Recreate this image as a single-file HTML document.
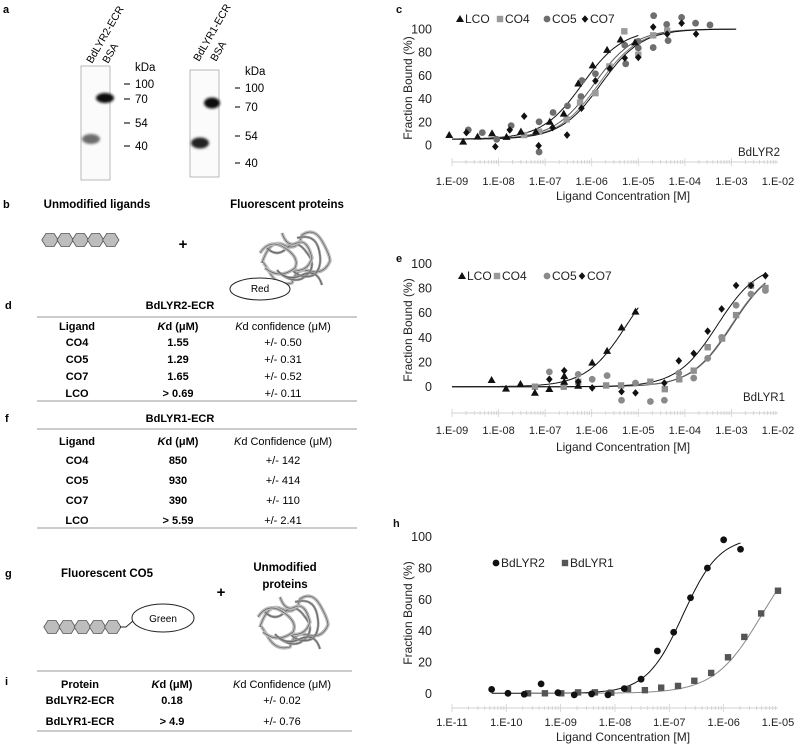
<!DOCTYPE html>
<html><head><meta charset="utf-8"><style>
html,body{margin:0;padding:0;background:#fff;}
svg{display:block;font-family:"Liberation Sans",sans-serif;}
.b{font-weight:bold;}
</style></head><body>
<svg id="fig" width="800" height="753" viewBox="0 0 800 753" xmlns="http://www.w3.org/2000/svg">
<defs><filter id="blur1" x="-50%" y="-50%" width="200%" height="200%"><feGaussianBlur stdDeviation="1.2"/></filter></defs>
<!-- Panel a: gels -->
<g>
<text x="3" y="13" font-size="11" class="b">a</text>
<text transform="translate(92,64) rotate(-60)" font-size="10.5">BdLYR2-ECR</text>
<text transform="translate(108,64) rotate(-60)" font-size="10.5">BSA</text>
<rect x="81" y="66" width="29" height="114" fill="#fbfbfb" stroke="#aaa" stroke-width="0.8"/>
<ellipse cx="91" cy="139" rx="9" ry="5" fill="#555" opacity="0.85" filter="url(#blur1)"/>
<ellipse cx="105" cy="98" rx="9" ry="5" fill="#111" filter="url(#blur1)"/>
<g stroke="#222" stroke-width="1.2"><line x1="124" y1="84" x2="130" y2="84"/><line x1="124" y1="99" x2="130" y2="99"/><line x1="124" y1="123" x2="130" y2="123"/><line x1="124" y1="146" x2="130" y2="146"/></g>
<g font-size="11.5"><text x="135" y="71">kDa</text><text x="135" y="88">100</text><text x="135" y="103">70</text><text x="135" y="127">54</text><text x="135" y="150">40</text></g>
<text transform="translate(199,62) rotate(-60)" font-size="10.5">BdLYR1-ECR</text>
<text transform="translate(216,62) rotate(-60)" font-size="10.5">BSA</text>
<rect x="190" y="70" width="29" height="107" fill="#fbfbfb" stroke="#aaa" stroke-width="0.8"/>
<ellipse cx="200" cy="143" rx="9" ry="5.5" fill="#222" filter="url(#blur1)"/>
<ellipse cx="212" cy="103" rx="8" ry="5.5" fill="#111" filter="url(#blur1)"/>
<g stroke="#222" stroke-width="1.2"><line x1="235" y1="88" x2="240" y2="88"/><line x1="235" y1="107" x2="240" y2="107"/><line x1="235" y1="136" x2="240" y2="136"/><line x1="235" y1="163" x2="240" y2="163"/></g>
<g font-size="11.5"><text x="245" y="75">kDa</text><text x="245" y="92">100</text><text x="245" y="111">70</text><text x="245" y="140">54</text><text x="245" y="167">40</text></g>
</g>
<!-- Panel b -->
<g>
<text x="3" y="208" font-size="11" class="b">b</text>
<text x="97" y="208" font-size="11.5" class="b" text-anchor="middle">Unmodified ligands</text>
<text x="287" y="208" font-size="11.5" class="b" text-anchor="middle">Fluorescent proteins</text>
<g id="hexB"></g>
<text x="183" y="249" font-size="15" class="b" text-anchor="middle">+</text>
<g id="protB"></g>
<ellipse cx="260" cy="289" rx="30" ry="11" fill="#fff" stroke="#222" stroke-width="1"/>
<text x="260" y="292" font-size="10" text-anchor="middle">Red</text>
</g>
<!-- Table d -->
<g font-size="11">
<text x="5" y="309" class="b" font-size="11">d</text>
<text x="180" y="309" class="b" text-anchor="middle">BdLYR2-ECR</text>
<line x1="37" y1="317" x2="357" y2="317" stroke="#999"/>
<text x="77" y="330" class="b" text-anchor="middle">Ligand</text>
<text x="178" y="330" class="b" text-anchor="middle"><tspan font-style="italic">K</tspan>d (μM)</text>
<text x="283" y="330" text-anchor="middle"><tspan font-style="italic">K</tspan>d confidence (μM)</text>
<g class="b" text-anchor="middle"><text x="77" y="346">CO4</text><text x="77" y="363">CO5</text><text x="77" y="380">CO7</text><text x="77" y="397">LCO</text>
<text x="178" y="346">1.55</text><text x="178" y="363">1.29</text><text x="178" y="380">1.65</text><text x="178" y="397">&gt; 0.69</text></g>
<g text-anchor="middle"><text x="283" y="346">+/- 0.50</text><text x="283" y="363">+/- 0.31</text><text x="283" y="380">+/- 0.52</text><text x="283" y="397">+/- 0.11</text></g>
<line x1="37" y1="401" x2="357" y2="401" stroke="#999"/>
</g>
<!-- Table f -->
<g font-size="11">
<text x="5" y="422" class="b" font-size="11">f</text>
<text x="180" y="422" class="b" text-anchor="middle">BdLYR1-ECR</text>
<line x1="37" y1="429" x2="357" y2="429" stroke="#999"/>
<text x="77" y="445" class="b" text-anchor="middle">Ligand</text>
<text x="178" y="445" class="b" text-anchor="middle"><tspan font-style="italic">K</tspan>d (μM)</text>
<text x="283" y="445" text-anchor="middle"><tspan font-style="italic">K</tspan>d Confidence (μM)</text>
<g class="b" text-anchor="middle"><text x="77" y="464">CO4</text><text x="77" y="484">CO5</text><text x="77" y="504">CO7</text><text x="77" y="524">LCO</text>
<text x="178" y="464">850</text><text x="178" y="484">930</text><text x="178" y="504">390</text><text x="178" y="524">&gt; 5.59</text></g>
<g text-anchor="middle"><text x="283" y="464">+/- 142</text><text x="283" y="484">+/- 414</text><text x="283" y="504">+/- 110</text><text x="283" y="524">+/- 2.41</text></g>
<line x1="37" y1="528" x2="357" y2="528" stroke="#999"/>
</g>
<!-- Panel g -->
<g>
<text x="5" y="577" font-size="11" class="b">g</text>
<text x="107" y="577" font-size="11.5" class="b" text-anchor="middle">Fluorescent CO5</text>
<text x="285" y="571" font-size="11.5" class="b" text-anchor="middle">Unmodified</text>
<text x="285" y="588" font-size="11.5" class="b" text-anchor="middle">proteins</text>
<text x="221" y="597" font-size="15" class="b" text-anchor="middle">+</text>
<g id="hexG"></g>
<path d="M120 627 L126 627 L134 620" fill="none" stroke="#222"/>
<ellipse cx="163" cy="618" rx="31" ry="14" fill="#fff" stroke="#222" stroke-width="1"/>
<text x="163" y="622" font-size="10" text-anchor="middle">Green</text>
<g id="protG"></g>
</g>
<!-- Table i -->
<g font-size="11">
<text x="5" y="685" class="b" font-size="11">i</text>
<line x1="37" y1="671" x2="352" y2="671" stroke="#999"/>
<text x="80" y="688" class="b" text-anchor="middle">Protein</text>
<text x="172" y="688" class="b" text-anchor="middle"><tspan font-style="italic">K</tspan>d (μM)</text>
<text x="282" y="688" text-anchor="middle"><tspan font-style="italic">K</tspan>d Confidence (μM)</text>
<g class="b" text-anchor="middle"><text x="80" y="704">BdLYR2-ECR</text><text x="80" y="725">BdLYR1-ECR</text><text x="172" y="704">0.18</text><text x="172" y="725">&gt; 4.9</text></g>
<g text-anchor="middle"><text x="282" y="704">+/- 0.02</text><text x="282" y="725">+/- 0.76</text></g>
<line x1="37" y1="731" x2="352" y2="731" stroke="#999"/>
</g>
<g id="chartC"></g>
<g id="chartE"></g>
<g id="chartH"></g>
</svg>
<script>
// ---- Chart c data (log10 concentration, fraction bound %) ----
const cLcoX = [-9.06,-8.76,-8.45,-8.14,-7.83,-7.52,-7.2,-6.9,-6.6,-6.29,-5.98,-5.67,-5.38,-5.07];
const cLcoY = [8.6,2.9,7.2,10,7,11.5,11.5,20,27,53,68.6,82,91,88.5];
const cCo4X = [-7.45,-7.13,-6.54,-6.25,-5.92,-5.62,-5.3,-5.0,-4.68,-4.38];
const cCo4Y = [8.6,11.5,22,36.6,44.7,67.7,98,77.8,94.5,98.6];
const cCo5X = [-8.65,-8.35,-8.04,-7.73,-7.13,-7.13,-6.83,-6.52,-6.23,-6.21,-5.92,-5.61,-5.29,-5.27,-5.0,-5.0,-4.68,-4.67,-4.39,-4.36,-4.07,-3.77,-3.46];
const cCo5Y = [13,10.7,4.9,16.7,20,-6,28,33.7,41.8,55.6,61.4,66.3,86,70,89.3,83.6,84,111.5,104,90,110,105,103.5];
const cCo7X = [-8.69,-8.07,-7.76,-7.45,-7.14,-6.84,-6.53,-6.22,-5.92,-5.61,-5.29,-5.0,-4.68,-4.38,-4.07,-3.76];
const cCo7Y = [10.7,-1.4,13,24.8,-0.6,15,8.6,31.7,55.3,66,75,75.5,101.7,95.7,105,95.7];
const cFitEC50 = [-6.2,-5.85,-5.95,-5.8];
const cFitEnd = [-5.0,-2.9,-2.9,-2.9];
const cXTicks = ["1.E-09","1.E-08","1.E-07","1.E-06","1.E-05","1.E-04","1.E-03","1.E-02"];
const cYTicks = [0,20,40,60,80,100];
// ---- Chart e data ----
const eLcoX = [-8.15,-7.84,-7.53,-7.22,-6.91,-6.59,-6.59,-6.29,-5.99,-5.67,-5.36,-5.06];
const eLcoY = [5.4,-1.6,2.2,-4.9,-1.9,4,8.6,0.8,19.5,29,48,60.8];
const eCo4X = [-7.22,-6.6,-6.29,-5.69,-5.37,-4.74,-4.43,-4.12,-3.81,-3.51,-3.2,-2.9,-2.58,-2.27];
const eCo4Y = [0,0,4,1,1,4,-2,6,13,32,39,58,82,80];
const eCo5X = [-6.91,-6.29,-5.99,-5.67,-5.36,-5.06,-4.74,-4.44,-4.13,-3.81,-3.51,-3.21,-2.9,-2.58,-2.27];
const eCo5Y = [12,10,6,9,-11,3,-12,-11,11,7,23,40,66,75,78];
const eCo7X = [-6.91,-6.59,-6.29,-5.99,-5.36,-5.06,-4.44,-4.13,-3.81,-3.51,-3.21,-2.9,-2.58,-2.27];
const eCo7Y = [6,13,4,-1,-4,-5,3,21,27,45,63,82,82,90];
const eFitEC50 = [-5.25,-3.0,-3.0,-3.3];
const eFitEnd = [-5.0,-2.27,-2.27,-2.27];
const eXTicks = ["1.E-09","1.E-08","1.E-07","1.E-06","1.E-05","1.E-04","1.E-03","1.E-02"];
const eYTicks = [0,20,40,60,80,100];
// ---- Chart h data ----
const hR2X = [-10.27,-9.97,-9.67,-9.36,-9.05,-8.75,-8.43,-8.13,-7.83,-7.52,-7.22,-6.92,-6.61,-6.3,-6.0,-5.69];
const hR2Y = [2.5,0,-0.6,6,0.4,-1,-0.4,-1,3,9,27,39,61,80,98,92];
const hR1X = [-9.6,-9.29,-8.99,-8.68,-8.37,-8.07,-7.76,-7.45,-7.15,-6.84,-6.54,-6.23,-5.92,-5.62,-5.31,-5.0];
const hR1Y = [0,0,0,0.6,0.6,0.4,2.8,2,3.6,4.7,8,13,23,36,51,65.5];
const hFitEC50 = [-6.75,-5.3];
const hFitHill = [1.3,1.0];
const hFitStart = [-10.27,-9.6];
const hFitEnd = [-5.69,-5.0];
const hXTicks = ["1.E-11","1.E-10","1.E-09","1.E-08","1.E-07","1.E-06","1.E-05"];
const hYTicks = [0,20,40,60,80,100];

const NS = "http://www.w3.org/2000/svg";
function mk(tag, attrs, parent){ const e=document.createElementNS(NS,tag); for(const k in attrs) e.setAttribute(k,attrs[k]); parent.appendChild(e); return e; }

function marker(g, shape, cx, cy, color){
  let el;
  if(shape==="tri") el = mk("polygon",{points:`${cx},${cy-4} ${cx-4},${cy+3} ${cx+4},${cy+3}`,fill:color},g);
  else if(shape==="sq") el = mk("rect",{x:cx-3.2,y:cy-3.2,width:6.4,height:6.4,fill:color},g);
  else if(shape==="dia") el = mk("polygon",{points:`${cx},${cy-3.8} ${cx+3.3},${cy} ${cx},${cy+3.8} ${cx-3.3},${cy}`,fill:color},g);
  else el = mk("circle",{cx:cx,cy:cy,r:3.4,fill:color},g);
  return el;
}

function makeAxes(cfg){
  const g = document.getElementById(cfg.id);
  const sx = v => cfg.x0 + (v - cfg.xmin) / (cfg.xmax - cfg.xmin) * (cfg.x1 - cfg.x0);
  const sy = v => cfg.yZero - v / 100 * (cfg.yZero - cfg.yHundred);
  const ax = mk("line",{x1:cfg.x0,y1:cfg.axisY,x2:cfg.x1,y2:cfg.axisY,stroke:"#d0d0d0","stroke-width":1},g);
  
  
  for(let d=cfg.xmin; d<cfg.xmax; d++){
    for(let m=1;m<10;m++){
      const x = sx(d + Math.log10(m));
      mk("line",{x1:x,y1:cfg.axisY-(m===1?4:2),x2:x,y2:cfg.axisY+(m===1?4:2),stroke:"#d0d0d0","stroke-width":0.8},g);
    }
  }
  cfg.xTicks.forEach((t,i)=>{
    const tx = mk("text",{x:sx(cfg.xmin+i),y:cfg.tickY,"font-size":11,"text-anchor":"middle",fill:"#222"},g);
    tx.textContent = t;
    
    
  });
  cfg.yTicks.forEach(v=>{
    const ty = mk("text",{x:cfg.yLabelX,y:sy(v)+4.5,"font-size":12.5,"text-anchor":"end",fill:"#222"},g);
    ty.textContent = v;
    
    
  });
  const xt = mk("text",{x:(cfg.x0+cfg.x1)/2+8,y:cfg.titleY,"font-size":12,"text-anchor":"middle",fill:"#222"},g);
  xt.textContent = "Ligand Concentration [M]";
  
  
  const yt = mk("text",{transform:`translate(${cfg.yTitleX},${cfg.yTitleCy}) rotate(-90)`,"font-size":12,"text-anchor":"middle",fill:"#222"},g);
  yt.textContent = "Fraction Bound (%)";
  
  
  const pl = mk("text",{x:cfg.labelX,y:cfg.labelY,"font-size":11,"font-weight":"bold",fill:"#111"},g);
  pl.textContent = cfg.label;
  
  
  return {g,sx,sy};
}

function fitCurve(A, start, end, bottom, top, ec50, hill, color, name){
  const pts=[];
  for(let i=0;i<=120;i++){
    const lx = start + (end-start)*i/120;
    const y = bottom + (top-bottom)/(1+Math.pow(10,(ec50-lx)*hill));
    pts.push(A.sx(lx).toFixed(1)+","+A.sy(y).toFixed(1));
  }
  const p = mk("polyline",{points:pts.join(" "),fill:"none",stroke:color,"stroke-width":1},A.g);
  
  
}

function scatter(A, xs, ys, shape, color, name){
  xs.forEach((x,i)=>{
    const m = marker(A.g, shape, A.sx(x), A.sy(ys[i]), color);
    
    
  });
}

function legend(A, items, y){
  items.forEach(it=>{
    const m = marker(A.g, it.shape, it.x, y-4, it.color);
    
    
    const t = mk("text",{x:it.x+5,y:y,"font-size":12,fill:"#222"},A.g);
    t.textContent = it.text;
    
    
  });
}

// Chart c
(function(){
  const A = makeAxes({id:"chartC",xmin:-9,xmax:-2,x0:452,x1:778,yZero:145,yHundred:29,axisY:162,tickY:185,titleY:200,yLabelX:432,yTitleX:412,yTitleCy:88,xTicks:cXTicks,yTicks:cYTicks,label:"c",labelX:396,labelY:13});
  fitCurve(A,-9,cFitEnd[0],5,100,cFitEC50[0],1,"#111","fit-curve-lco");
  fitCurve(A,-9,cFitEnd[1],5,100,cFitEC50[1],1,"#777","fit-curve-co4");
  fitCurve(A,-9,cFitEnd[2],5,100,cFitEC50[2],1,"#555","fit-curve-co5");
  fitCurve(A,-9,cFitEnd[3],5,100,cFitEC50[3],1,"#111","fit-curve-co7");
  scatter(A,cCo5X,cCo5Y,"circ","#6e6e6e","point-co5");
  scatter(A,cCo4X,cCo4Y,"sq","#9a9a9a","point-co4");
  scatter(A,cLcoX,cLcoY,"tri","#111","point-lco");
  scatter(A,cCo7X,cCo7Y,"dia","#111","point-co7");
  legend(A,[{x:460,shape:"tri",color:"#111",text:"LCO"},{x:500,shape:"sq",color:"#9a9a9a",text:"CO4"},{x:547,shape:"circ",color:"#6e6e6e",text:"CO5"},{x:585,shape:"dia",color:"#111",text:"CO7"}],23);
  const t = mk("text",{x:738,y:156,"font-size":11.5,fill:"#222"},A.g); t.textContent="BdLYR2";
  
  
})();

// Chart e
(function(){
  const A = makeAxes({id:"chartE",xmin:-9,xmax:-2,x0:452,x1:778,yZero:386.7,yHundred:263.3,axisY:413,tickY:434,titleY:451,yLabelX:432,yTitleX:412,yTitleCy:330,xTicks:eXTicks,yTicks:eYTicks,label:"e",labelX:396,labelY:262});
  fitCurve(A,-9,eFitEnd[0],0,100,eFitEC50[0],1,"#111","fit-curve-lco");
  fitCurve(A,-9,eFitEnd[1],0,100,eFitEC50[1],1,"#777","fit-curve-co4");
  fitCurve(A,-9,eFitEnd[2],0,100,eFitEC50[2]+0.02,1,"#555","fit-curve-co5");
  fitCurve(A,-9,eFitEnd[3],0,100,eFitEC50[3],1,"#111","fit-curve-co7");
  scatter(A,eCo5X,eCo5Y,"circ","#8a8a8a","point-co5");
  scatter(A,eCo4X,eCo4Y,"sq","#8f8f8f","point-co4");
  scatter(A,eLcoX,eLcoY,"tri","#111","point-lco");
  scatter(A,eCo7X,eCo7Y,"dia","#111","point-co7");
  legend(A,[{x:462,shape:"tri",color:"#111",text:"LCO"},{x:497,shape:"sq",color:"#9a9a9a",text:"CO4"},{x:547,shape:"circ",color:"#8a8a8a",text:"CO5"},{x:582,shape:"dia",color:"#111",text:"CO7"}],280);
  const t = mk("text",{x:743,y:401,"font-size":11.5,fill:"#222"},A.g); t.textContent="BdLYR1";
  
  
})();

// Chart h
(function(){
  const A = makeAxes({id:"chartH",xmin:-11,xmax:-5,x0:452,x1:778,yZero:693.3,yHundred:536.7,axisY:708,tickY:726,titleY:741,yLabelX:432,yTitleX:412,yTitleCy:613,xTicks:hXTicks,yTicks:hYTicks,label:"h",labelX:393,labelY:527});
  fitCurve(A,hFitStart[0],hFitEnd[0],0,100,hFitEC50[0],hFitHill[0],"#111","fit-curve-bdlyr2");
  fitCurve(A,hFitStart[1],hFitEnd[1],0,100,hFitEC50[1],hFitHill[1],"#888","fit-curve-bdlyr1");
  scatter(A,hR1X,hR1Y,"sq","#555","point-bdlyr1");
  scatter(A,hR2X,hR2Y,"circ","#111","point-bdlyr2");
  legend(A,[{x:496,shape:"circ",color:"#111",text:"BdLYR2"},{x:565,shape:"sq",color:"#555",text:"BdLYR1"}],567);
})();

function hexChain(id, x0, cy){
  const g=document.getElementById(id);
  for(let i=0;i<5;i++){
    const cx=x0+i*15.2, r=8.2, h=6.5;
    const h1 = mk("polygon",{points:`${cx-r},${cy} ${cx-r/2},${cy-h} ${cx+r/2},${cy-h} ${cx+r},${cy} ${cx+r/2},${cy+h} ${cx-r/2},${cy+h}`,fill:"#bdbdbd",stroke:"#555","stroke-width":0.8},g);
    
    
  }
}
hexChain("hexB",50,240);
hexChain("hexG",52,627);
function protein(id, cx, cy){
  const g=document.getElementById(id);
  const paths=[
    `M${cx-30},${cy+5} q8,-25 22,-18 t18,-10 q12,-8 20,6 t8,20 q-6,14 -20,10 t-18,12 q-14,4 -22,-10 t-8,-10`,
    `M${cx-25},${cy-10} q10,10 20,0 t20,5 q10,12 0,22 t-25,0`,
    `M${cx-10},${cy-25} q5,15 15,10 t15,15 q-5,15 -20,12`,
    `M${cx+5},${cy-20} q18,-5 22,12 t-5,25 q-12,5 -22,-5`,
    `M${cx-32},${cy-5} q10,-15 25,-5 t10,20 q-15,12 -30,0`,
    `M${cx-15},${cy+12} q10,12 25,5 t20,10`
  ];
  paths.forEach((d,i)=>{
    const p=mk("path",{d:d,fill:"none",stroke:i%2?"#999":"#bbb","stroke-width":i%2?2.5:3.5,"stroke-linejoin":"round"},g);
    
    
    const p2=mk("path",{d:d,fill:"none",stroke:"#555","stroke-width":0.6},g);
    
    
  });
}
protein("protB",292,258);
protein("protG",290,622);
</script>
</body></html>
